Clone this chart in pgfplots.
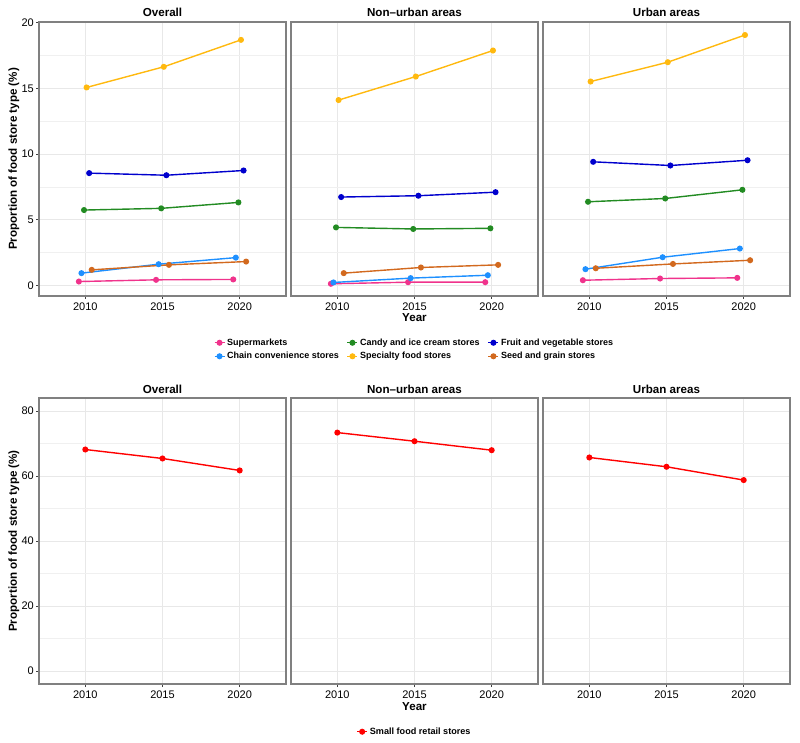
\documentclass[border=0pt]{standalone}
\usepackage{fontspec}
\setmainfont{Liberation Sans}
\usepackage{pgfplots}
\pgfplotsset{compat=1.18}
\definecolor{csup}{HTML}{F0338C}
\definecolor{cchain}{HTML}{1E90FF}
\definecolor{ccandy}{HTML}{228B22}
\definecolor{cspec}{HTML}{FFB90F}
\definecolor{cfruit}{HTML}{0000CD}
\definecolor{cseed}{HTML}{D2691E}
\definecolor{csmall}{HTML}{FF0000}

% Top row data: year (dodged), value
\pgfplotstableread{
x y
2009.583 0.30
2014.583 0.43
2019.583 0.46
}\OSup
\pgfplotstableread{
x y
2009.75 0.94
2014.75 1.62
2019.75 2.12
}\OChain
\pgfplotstableread{
x y
2009.917 5.74
2014.917 5.87
2019.917 6.32
}\OCandy
\pgfplotstableread{
x y
2010.083 15.07
2015.083 16.64
2020.083 18.69
}\OSpec
\pgfplotstableread{
x y
2010.25 8.55
2015.25 8.39
2020.25 8.75
}\OFruit
\pgfplotstableread{
x y
2010.417 1.19
2015.417 1.57
2020.417 1.82
}\OSeed

\pgfplotstableread{
x y
2009.583 0.13
2014.583 0.25
2019.583 0.25
}\NSup
\pgfplotstableread{
x y
2009.75 0.23
2014.75 0.56
2019.75 0.78
}\NChain
\pgfplotstableread{
x y
2009.917 4.42
2014.917 4.30
2019.917 4.35
}\NCandy
\pgfplotstableread{
x y
2010.083 14.11
2015.083 15.90
2020.083 17.88
}\NSpec
\pgfplotstableread{
x y
2010.25 6.73
2015.25 6.83
2020.25 7.10
}\NFruit
\pgfplotstableread{
x y
2010.417 0.94
2015.417 1.37
2020.417 1.57
}\NSeed

\pgfplotstableread{
x y
2009.583 0.40
2014.583 0.53
2019.583 0.58
}\USup
\pgfplotstableread{
x y
2009.75 1.24
2014.75 2.15
2019.75 2.81
}\UChain
\pgfplotstableread{
x y
2009.917 6.37
2014.917 6.62
2019.917 7.28
}\UCandy
\pgfplotstableread{
x y
2010.083 15.52
2015.083 16.99
2020.083 19.06
}\USpec
\pgfplotstableread{
x y
2010.25 9.41
2015.25 9.13
2020.25 9.53
}\UFruit
\pgfplotstableread{
x y
2010.417 1.31
2015.417 1.64
2020.417 1.92
}\USeed

% Bottom row
\pgfplotstableread{
x y
2010 68.15
2015 65.39
2020 61.71
}\OSmall
\pgfplotstableread{
x y
2010 73.36
2015 70.70
2020 67.94
}\NSmall
\pgfplotstableread{
x y
2010 65.70
2015 62.84
2020 58.75
}\USmall

\pgfplotsset{
  panel/.style={
    scale only axis, width=247pt,
    xmin=2007, xmax=2023, xtick={2010,2015,2020},
    /pgf/number format/1000 sep={},
    /pgf/number format/assume math mode=true,
    axis line style={black!50, line width=1.1pt},
    xmajorgrids, ymajorgrids, yminorgrids,
    major grid style={black!9, line width=0.7pt},
    minor grid style={black!6, line width=0.45pt},
    tick align=outside, tick pos=left,
    major tick length=3pt, minor tick length=0pt,
    tick style={black!75, line width=0.6pt},
    ticklabel style={font=\fontsize{11}{11}\selectfont, text=black},
    xticklabel style={anchor=north, inner sep=0pt, yshift=-4pt},
    yticklabel style={anchor=east, inner sep=0pt, xshift=-2pt},
    every axis title/.style={font=\bfseries\fontsize{11.6}{12}\selectfont, at={(0.5,1)}, anchor=base, yshift=5pt, inner sep=0pt},
    every axis y label/.style={font=\bfseries\fontsize{11.6}{12}\selectfont, at={(axis description cs:0,0.5)}, xshift=-25pt, rotate=90, anchor=center},
    every axis x label/.style={font=\bfseries\fontsize{11.6}{12}\selectfont, at={(axis description cs:0.5,0)}, anchor=base, yshift=-26pt},
    legend cell align=left,
    legend image code/.code={\draw[mark repeat=2,mark phase=2] plot coordinates {(0pt,0pt) (5pt,0pt) (10pt,0pt)};},
    every axis plot/.append style={line width=1.4pt, mark=*, mark size=2.3pt, mark options={draw=black!80, line width=0.5pt}},
    clip=false,
  },
  toprow/.style={panel, height=274pt, ymin=-0.8, ymax=20.05, ytick={0,5,10,15,20}, minor ytick={2.5,7.5,12.5,17.5}},
  botrow/.style={panel, height=286pt, ymin=-4, ymax=84, ytick={0,20,40,60,80}, minor ytick={10,30,50,70}},
  noy/.style={yticklabels={}, ytick style={draw=none}},
  sup/.style={color=csup, mark options={fill=csup}},
  chain/.style={color=cchain, mark options={fill=cchain}},
  candy/.style={color=ccandy, mark options={fill=ccandy}},
  spec/.style={color=cspec, mark options={fill=cspec}},
  fruit/.style={color=cfruit, mark options={fill=cfruit}},
  seed/.style={color=cseed, mark options={fill=cseed}},
  small/.style={color=csmall, mark options={fill=csmall}},
}

\begin{document}
\begin{tikzpicture}
\path[use as bounding box] (0pt,0pt) rectangle (800pt,-743pt);

% ---------- Top row ----------
\begin{axis}[toprow, at={(39pt,-22pt)}, anchor=north west, title={Overall}, ylabel={Proportion of food store type (\%)}]
\addplot[sup] table {\OSup};
\addplot[candy] table {\OCandy};
\addplot[fruit] table {\OFruit};
\addplot[chain] table {\OChain};
\addplot[spec] table {\OSpec};
\addplot[seed] table {\OSeed};
\end{axis}

\begin{axis}[toprow, noy, at={(291pt,-22pt)}, anchor=north west, title={Non\textendash urban areas}, xlabel={Year},
  legend columns=3,
  legend style={at={(0.5,-0.148)}, anchor=north, draw=none, fill=none,
    font=\bfseries\fontsize{9}{10}\selectfont,
    /tikz/every even column/.append style={column sep=6pt},
    row sep=1.5pt, inner sep=0pt}]
\addplot[sup] table {\NSup};
\addplot[candy] table {\NCandy};
\addplot[fruit] table {\NFruit};
\addplot[chain] table {\NChain};
\addplot[spec] table {\NSpec};
\addplot[seed] table {\NSeed};
\legend{Supermarkets, Candy and ice cream stores, Fruit and vegetable stores, Chain convenience stores, Specialty food stores, Seed and grain stores}
\end{axis}

\begin{axis}[toprow, noy, at={(543pt,-22pt)}, anchor=north west, title={Urban areas}]
\addplot[sup] table {\USup};
\addplot[candy] table {\UCandy};
\addplot[fruit] table {\UFruit};
\addplot[chain] table {\UChain};
\addplot[spec] table {\USpec};
\addplot[seed] table {\USeed};
\end{axis}

% ---------- Bottom row ----------
\begin{axis}[botrow, at={(39pt,-398pt)}, anchor=north west, title={Overall}, ylabel={Proportion of food store type (\%)}]
\addplot[small] table {\OSmall};
\end{axis}

\begin{axis}[botrow, noy, at={(291pt,-398pt)}, anchor=north west, title={Non\textendash urban areas}, xlabel={Year},
  legend style={at={(0.5,-0.145)}, anchor=north, draw=none, fill=none,
    font=\bfseries\fontsize{9.1}{10}\selectfont, inner sep=0pt}]
\addplot[small] table {\NSmall};
\legend{Small food retail stores}
\end{axis}

\begin{axis}[botrow, noy, at={(543pt,-398pt)}, anchor=north west, title={Urban areas}]
\addplot[small] table {\USmall};
\end{axis}
\end{tikzpicture}
\end{document}
